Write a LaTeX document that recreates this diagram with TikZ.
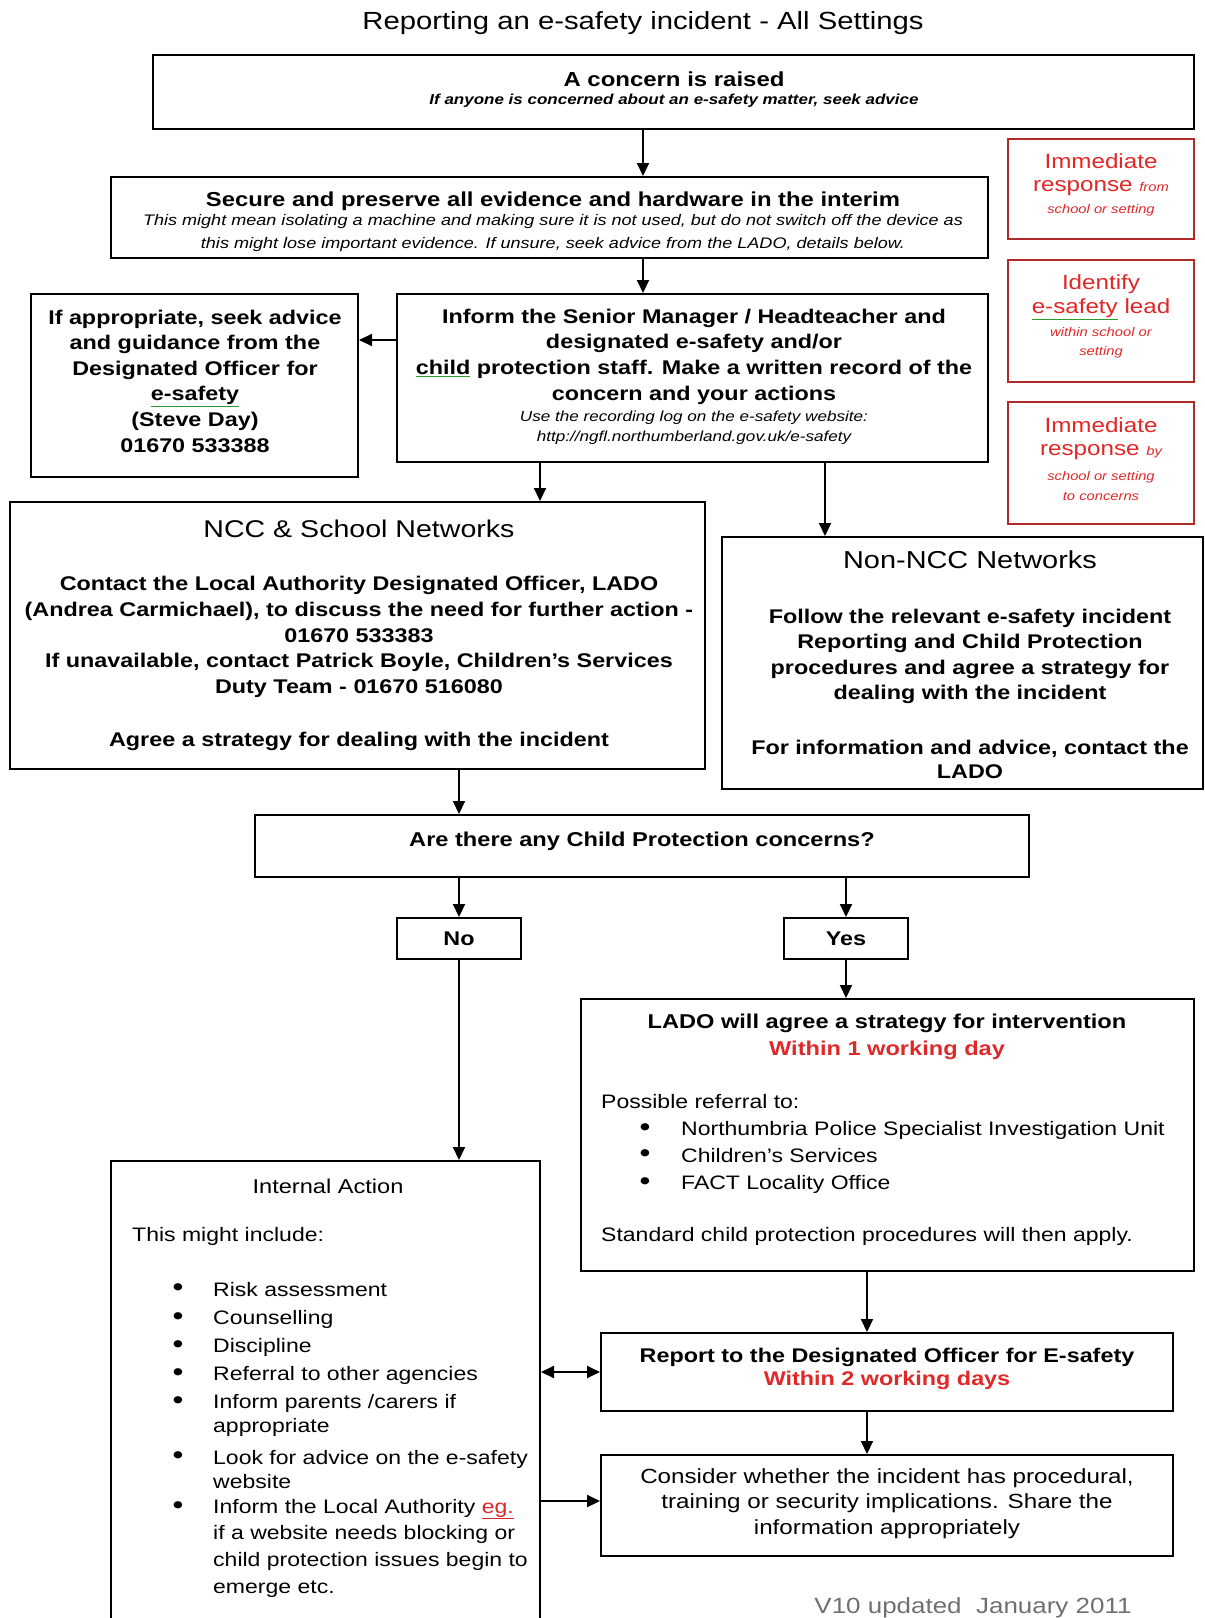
\documentclass[tikz,border=0pt]{standalone}
\usepackage{fontspec}
\setmainfont{Liberation Sans}[FakeStretch=1.18]
\usetikzlibrary{arrows.meta}
\definecolor{redtxt}{HTML}{E02828}
\definecolor{redbox}{HTML}{B02A2A}
\definecolor{sqg}{HTML}{2E9B2E}
\definecolor{greytxt}{HTML}{707070}
\newcommand\fsz[2]{\fontsize{#1}{#2}\selectfont}
\newcommand\sqline[2]{{\color{#1}\underline{\textcolor{black}{#2}}}}
\tikzset{
  box/.style={draw=black, line width=2pt, inner sep=0pt},
  rbox/.style={draw=redbox, line width=1.8pt, inner sep=0pt},
  txt/.style={inner sep=0pt, align=center},
  ltxt/.style={inner sep=0pt, align=left, anchor=west},
  arr/.style={-{Triangle[length=13pt,width=12pt]}, line width=2pt},
  darr/.style={{Triangle[length=13pt,width=12pt]}-{Triangle[length=13pt,width=12pt]}, line width=2pt},
  bfn/.style={font=\fsz{19.8}{25.6}\bfseries},
  rgn/.style={font=\fsz{19.5}{25.6}},
  bul/.style={inner sep=0pt, font=\fsz{25}{25}\bfseries},
  rlg/.style={txt, text=redtxt, font=\fsz{20.5}{22}},
  rsm/.style={txt, text=redtxt, font=\fsz{12.5}{15}\itshape},
}
\begin{document}
\begin{tikzpicture}[x=1pt,y=-1pt]
\useasboundingbox (0,0) rectangle (1205,1618);
\fill[white] (0,0) rectangle (1205,1618);
\clip (0,0) rectangle (1205,1618);

% title
\node[txt, font=\fsz{24.8}{28}] (title) at (643,23) {Reporting an e-safety incident - All Settings};

% box 1
\node[box, minimum width=1041pt, minimum height=74pt] (b1) at (673.5,92) {};
\node[txt, font=\fsz{20.3}{25}\bfseries] (b1t) at (674,79) {A concern is raised};
\node[txt, font=\fsz{14.4}{16}\bfseries\itshape] (b1s) at (674,101) {If anyone is concerned about an e-safety matter, seek advice};

% box 2
\node[box, minimum width=877pt, minimum height=81pt] (b2) at (549.5,217.5) {};
\node[txt, font=\fsz{20.2}{25}\bfseries] (b2t) at (553,201) {Secure and preserve all evidence and hardware in the interim};
\node[txt, font=\fsz{15.3}{23}\itshape] (b2s) at (553,233.5) {This might mean isolating a machine and making sure it is not used, but do not switch off the device as\\this might lose important evidence. If unsure, seek advice from the LADO, details below.};

% red boxes
\node[rbox, minimum width=186pt, minimum height=100pt] (rA) at (1101,189) {};
\node[rlg] (rA1) at (1101,161) {Immediate};
\node[rlg] (rA2) at (1101,188) {response {\fsz{12.5}{15}\itshape from}};
\node[rsm] (rA3) at (1101,210) {school or setting};

\node[rbox, minimum width=186pt, minimum height=122pt] (rB) at (1101,321) {};
\node[rlg] (rB1) at (1101,284) {Identify};
\node[rlg] (rB2) at (1101,309) {\sqline{sqg}{\textcolor{redtxt}{e-safety}} lead};
\node[rsm] (rB3) at (1101,332) {within school or};
\node[rsm] (rB4) at (1101,352) {setting};

\node[rbox, minimum width=186pt, minimum height=122pt] (rC) at (1101,463) {};
\node[rlg] (rC1) at (1101,425) {Immediate};
\node[rlg] (rC2) at (1101,452) {response {\fsz{12.5}{15}\itshape by}};
\node[rsm] (rC3) at (1101,477) {school or setting};
\node[rsm] (rC4) at (1101,497) {to concerns};

% left advice box
\node[box, minimum width=327pt, minimum height=183pt] (left) at (194.5,385.5) {};
\node[txt, bfn] (leftt) at (195,381) {If appropriate, seek advice\\and guidance from the\\Designated Officer for\\\sqline{sqg}{e-safety}\\(Steve Day)\\01670 533388};

% inform box
\node[box, minimum width=591pt, minimum height=168pt] (inf) at (692.5,378) {};
\node[txt, bfn] (inft) at (694,356.5) {Inform the Senior Manager / Headteacher and\\designated e-safety and/or\\\sqline{sqg}{child} protection staff. Make a written record of the\\concern and your actions};
\node[txt, font=\fsz{14.5}{20}\itshape] (infs) at (694,428) {Use the recording log on the e-safety website:\\http://ngfl.northumberland.gov.uk/e-safety};

% NCC box
\node[box, minimum width=695pt, minimum height=267pt] (ncc) at (357.5,635.5) {};
\node[txt, font=\fsz{24.2}{25}] (ncct) at (359,529) {NCC \& School Networks};
\node[txt, bfn] (nccb) at (359,637) {Contact the Local Authority Designated Officer, LADO\\(Andrea Carmichael), to discuss the need for further action -\\01670 533383\\If unavailable, contact Patrick Boyle, Children's Services\\Duty Team - 01670 516080};
\node[txt, bfn] (nccc) at (359,741) {Agree a strategy for dealing with the incident};

% Non-NCC box
\node[box, minimum width=481pt, minimum height=252pt] (non) at (962.5,663) {};
\node[txt, font=\fsz{24.5}{25}] (nont) at (970,560) {Non-NCC Networks};
\node[txt, bfn] (nonb) at (970,656.5) {Follow the relevant e-safety incident\\Reporting and Child Protection\\procedures and agree a strategy for\\dealing with the incident};
\node[txt, font=\fsz{19.8}{23.5}\bfseries] (nonc) at (970,759.5) {For information and advice, contact the\\LADO};

% CP box
\node[box, minimum width=774pt, minimum height=62pt] (cp) at (642,846) {};
\node[txt, font=\fsz{20}{25}\bfseries] (cpt) at (642,841) {Are there any Child Protection concerns?};

\node[box, minimum width=124pt, minimum height=41pt, bfn] (no) at (459,938.5) {No};
\node[box, minimum width=124pt, minimum height=41pt, bfn] (yes) at (846,938.5) {Yes};

% LADO box
\node[box, minimum width=613pt, minimum height=272pt] (lado) at (887.5,1135) {};
\node[txt, font=\fsz{20}{25}\bfseries] (ladot) at (887,1023) {LADO will agree a strategy for intervention};
\node[txt, font=\fsz{20}{25}\bfseries, text=redtxt] (lador) at (887,1050) {Within 1 working day};
\node[ltxt, rgn] (ladop) at (601,1102) {Possible referral to:};
\node[bul] (lb1) at (645,1130) {•};
\node[bul] (lb2) at (645,1156) {•};
\node[bul] (lb3) at (645,1184) {•};
\node[ltxt, rgn] (li1) at (681,1130) {Northumbria Police Specialist Investigation Unit};
\node[ltxt, rgn] (li2) at (681,1156) {Children's Services};
\node[ltxt, rgn] (li3) at (681,1184) {FACT Locality Office};
\node[ltxt, rgn] (lados) at (601,1236) {Standard child protection procedures will then apply.};

% Internal action box (runs off the bottom)
\node[box, minimum width=429pt, minimum height=479pt] (ia) at (325.5,1400.5) {};
\node[txt, font=\fsz{20}{25}] (iat) at (328,1186) {Internal Action};
\node[ltxt, rgn] (iai) at (132,1236) {This might include:};
\node[bul] (ib1) at (178,1290) {•};
\node[bul] (ib2) at (178,1319) {•};
\node[bul] (ib3) at (178,1347) {•};
\node[bul] (ib4) at (178,1375) {•};
\node[bul] (ib5) at (178,1403) {•};
\node[bul] (ib6) at (178,1458) {•};
\node[bul] (ib7) at (178,1508) {•};
\node[ltxt, rgn] (ii1) at (213,1290) {Risk assessment};
\node[ltxt, rgn] (ii2) at (213,1319) {Counselling};
\node[ltxt, rgn] (ii3) at (213,1347) {Discipline};
\node[ltxt, rgn] (ii4) at (213,1375) {Referral to other agencies};
\node[ltxt, font=\fsz{19.5}{24}] (ii5) at (213,1415) {Inform parents /carers if\\appropriate};
\node[ltxt, font=\fsz{19.5}{24}] (ii6) at (213,1470) {Look for advice on the e-safety\\website};
\node[ltxt, font=\fsz{19.5}{26.7}] (ii7) at (213,1548) {Inform the Local Authority \sqline{redtxt}{\textcolor{redtxt}{eg.}}\\if a website needs blocking or\\child protection issues begin to\\emerge etc.};

% Report box
\node[box, minimum width=572pt, minimum height=78pt] (rep) at (887,1372) {};
\node[txt, font=\fsz{19.8}{25}\bfseries] (rept) at (887,1357) {Report to the Designated Officer for E-safety};
\node[txt, font=\fsz{19.8}{25}\bfseries, text=redtxt] (repr) at (887,1380) {Within 2 working days};

% Consider box
\node[box, minimum width=572pt, minimum height=101pt] (con) at (887,1505.5) {};
\node[txt, font=\fsz{20.5}{25.5}] (cont) at (887,1503.5) {Consider whether the incident has procedural,\\training or security implications. Share the\\information appropriately};

\node[txt, font=\fsz{22}{25}, text=greytxt] (ver) at (973,1608) {V10 updated\ \ January 2011};

% helper x / y positions
\coordinate (x643) at (643,0);
\coordinate (x540) at (540,0);
\coordinate (x825) at (825,0);
\coordinate (x459) at (459,0);
\coordinate (x846) at (846,0);
\coordinate (x867) at (867,0);
\coordinate (y340) at (0,340);
\coordinate (y1372) at (0,1372);
\coordinate (y1501) at (0,1501);

% connectors
\draw[arr] (b1.south -| x643) -- (b2.north -| x643);
\draw[arr] (b2.south -| x643) -- (inf.north -| x643);
\draw[arr] (inf.west |- y340) -- (left.east |- y340);
\draw[arr] (inf.south -| x540) -- (ncc.north -| x540);
\draw[arr] (inf.south -| x825) -- (non.north -| x825);
\draw[arr] (ncc.south -| x459) -- (cp.north -| x459);
\draw[arr] (cp.south -| x459) -- (no.north);
\draw[arr] (cp.south -| x846) -- (yes.north);
\draw[arr] (yes.south) -- (lado.north -| x846);
\draw[arr] (no.south) -- (ia.north -| x459);
\draw[arr] (lado.south -| x867) -- (rep.north -| x867);
\draw[darr] (ia.east |- y1372) -- (rep.west |- y1372);
\draw[arr] (rep.south -| x867) -- (con.north -| x867);
\draw[arr] (ia.east |- y1501) -- (con.west |- y1501);
\end{tikzpicture}
\end{document}
